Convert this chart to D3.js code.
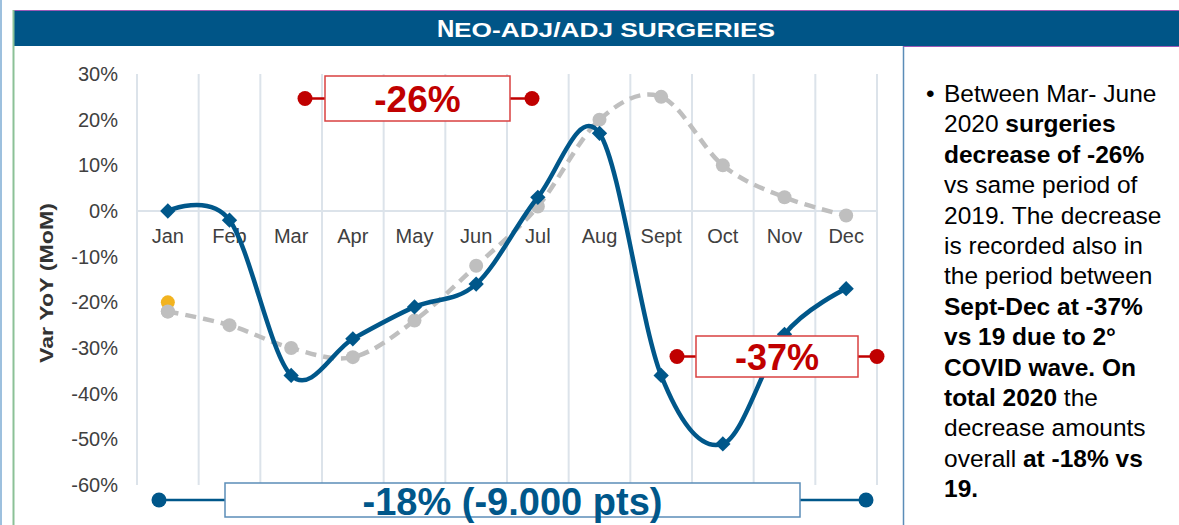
<!DOCTYPE html>
<html>
<head>
<meta charset="utf-8">
<script src="https://cdn.jsdelivr.net/npm/d3@7"></script>
<style>
  body { margin: 0; background: #fff; }
  svg { display: block; font-family: "Liberation Sans", Arial, sans-serif; }
</style>
</head>
<body>
<svg id="chart" width="1179" height="525"></svg>
<script>
// months on the x axis
var months = ["Jan", "Feb", "Mar", "Apr", "May", "Jun", "Jul", "Aug", "Sept", "Oct", "Nov", "Dec"];
// YoY variation 2020 (blue, solid)
var var2020 = [0, -2, -36, -28, -21, -16, 3, 17, -36, -51, -27, -17];
// YoY variation previous year (grey, dashed)
var var2019 = [-22, -25, -30, -32, -24, -12, 1, 20, 25, 10, 3, -1];
// single highlighted point (yellow)
var highlight = [{ month: "Jan", value: -20 }];
// y tick labels
var yTicks = [30, 20, 10, 0, -10, -20, -30, -40, -50, -60];

// commentary on the right, one entry per line, [text, bold]
var notes = [
    [["Between Mar- June", false]],
    [["2020 ", false], ["surgeries", true]],
    [["decrease of -26%", true]],
    [["vs same period of", false]],
    [["2019. The decrease", false]],
    [["is recorded also in", false]],
    [["the period between", false]],
    [["Sept-Dec at -37%", true]],
    [["vs 19 due to 2\u00b0", true]],
    [["COVID wave. On", true]],
    [["total 2020", true], [" the", false]],
    [["decrease amounts", false]],
    [["overall ", false], ["at -18% vs", true]],
    [["19.", true]]
];

var blue = "#00578a", red = "#c00000", grey = "#bfbfbf", yellow = "#f2b31f";
var svg = d3.select("#chart");

// panel frame
svg.append("rect").attr("x", 0).attr("y", 0).attr("width", 2).attr("height", 525).attr("fill", "#9dc0de");
svg.append("rect").attr("x", 13).attr("y", 10).attr("width", 1166).attr("height", 36).attr("fill", "#005587");
svg.append("line").attr("x1", 13).attr("x2", 1179).attr("y1", 10.5).attr("y2", 10.5)
    .attr("stroke", "#9b59b6").attr("stroke-width", 1);
svg.append("line").attr("x1", 13.5).attr("x2", 13.5).attr("y1", 10).attr("y2", 525)
    .attr("stroke", "#8cc197").attr("stroke-width", 2);
svg.append("line").attr("x1", 903.5).attr("x2", 903.5).attr("y1", 46).attr("y2", 525)
    .attr("stroke", "#5b8db8").attr("stroke-width", 1.5);
svg.append("line").attr("x1", 903).attr("x2", 1179).attr("y1", 46.5).attr("y2", 46.5)
    .attr("stroke", "#9b59b6").attr("stroke-width", 1);

// title (small caps look)
svg.append("text").attr("x", 437).attr("y", 37).attr("fill", "#fff")
    .attr("font-size", 24).attr("font-weight", "bold").text("N");
svg.append("text").attr("x", 454).attr("y", 37).attr("fill", "#fff")
    .attr("font-size", 20).attr("font-weight", "bold")
    .attr("textLength", 321).attr("lengthAdjust", "spacingAndGlyphs")
    .text("EO-ADJ/ADJ SURGERIES");

// scales
var x = d3.scaleBand().domain(months).range([137, 877]);
var y = d3.scaleLinear().domain([-60, 30]).range([485, 74]);

// vertical gridlines at band edges
var edges = months.map(function (m) { return x(m); }).concat([x.range()[1]]);
svg.append("g").selectAll("line").data(edges).enter().append("line")
    .attr("x1", function (d) { return d; }).attr("x2", function (d) { return d; })
    .attr("y1", y(30)).attr("y2", y(-60))
    .attr("stroke", "#dce3ea").attr("stroke-width", 2);

// zero line
svg.append("line").attr("x1", x.range()[0]).attr("x2", x.range()[1])
    .attr("y1", y(0)).attr("y2", y(0))
    .attr("stroke", "#dce3ea").attr("stroke-width", 2);

// y axis labels
svg.append("g")
    .attr("transform", "translate(" + x.range()[0] + ",0)")
    .call(d3.axisLeft(y).tickValues(yTicks).tickSize(0).tickPadding(19)
        .tickFormat(function (d) { return d + "%"; }))
    .call(function (g) { g.select(".domain").remove(); })
    .selectAll("text")
    .attr("font-size", 20).attr("fill", "#404040").attr("font-family", "Liberation Sans, Arial, sans-serif");

// month labels under the zero line
svg.append("g")
    .attr("transform", "translate(0," + y(0) + ")")
    .call(d3.axisBottom(x).tickSize(0).tickPadding(18))
    .call(function (g) { g.select(".domain").remove(); })
    .selectAll("text")
    .attr("font-size", 20).attr("fill", "#404040").attr("font-family", "Liberation Sans, Arial, sans-serif");

// y axis title
svg.append("text")
    .attr("transform", "translate(53,283) rotate(-90)")
    .attr("text-anchor", "middle")
    .attr("font-size", 19).attr("font-weight", "bold").attr("fill", "#333")
    .attr("textLength", 160).attr("lengthAdjust", "spacingAndGlyphs")
    .text("Var YoY (MoM)");

var cx = function (i) { return x(months[i]) + x.bandwidth() / 2; };
var line = d3.line()
    .x(function (d, i) { return cx(i); })
    .y(function (d) { return y(d); })
    .curve(d3.curveCardinal.tension(0));

// grey dashed series
svg.append("path").datum(var2019)
    .attr("d", line).attr("fill", "none")
    .attr("stroke", grey).attr("stroke-width", 4.5).attr("stroke-dasharray", "11,7");
svg.append("g").selectAll("circle").data(var2019).enter().append("circle")
    .attr("cx", function (d, i) { return cx(i); })
    .attr("cy", function (d) { return y(d); })
    .attr("r", 7).attr("fill", grey);

// yellow point
svg.append("g").selectAll("circle").data(highlight).enter().append("circle")
    .attr("cx", function (d) { return x(d.month) + x.bandwidth() / 2; })
    .attr("cy", function (d) { return y(d.value); })
    .attr("r", 7).attr("fill", yellow);
// grey Jan point sits over the yellow one
svg.append("circle").attr("cx", cx(0)).attr("cy", y(var2019[0])).attr("r", 7).attr("fill", grey);

// blue series
svg.append("path").datum(var2020)
    .attr("d", line).attr("fill", "none")
    .attr("stroke", blue).attr("stroke-width", 4.5);
svg.append("g").selectAll("path").data(var2020).enter().append("path")
    .attr("d", d3.symbol().type(d3.symbolDiamond2).size(150))
    .attr("transform", function (d, i) { return "translate(" + cx(i) + "," + y(d) + ")"; })
    .attr("fill", blue);

// bracket annotations: dots, connectors and boxed labels
function bracket(x0, x1, bx0, bx1, by0, by1, colour, border, label, size, baseline) {
    var g = svg.append("g");
    var cy = (by0 + by1) / 2;
    g.append("line").attr("x1", x0).attr("x2", x1).attr("y1", cy).attr("y2", cy)
        .attr("stroke", colour).attr("stroke-width", 2.5);
    g.append("circle").attr("cx", x0).attr("cy", cy).attr("r", 7.5).attr("fill", colour);
    g.append("circle").attr("cx", x1).attr("cy", cy).attr("r", 7.5).attr("fill", colour);
    g.append("rect").attr("x", bx0).attr("y", by0).attr("width", bx1 - bx0).attr("height", by1 - by0)
        .attr("fill", "#fff").attr("stroke", border).attr("stroke-width", 1.5);
    g.append("text").attr("x", (bx0 + bx1) / 2).attr("y", baseline)
        .attr("text-anchor", "middle").attr("font-size", size).attr("font-weight", "bold")
        .attr("fill", colour).text(label);
}
bracket(305, 532, 325, 510, 76, 121, red, "#d94040", "-26%", 37, 112);
bracket(677, 877, 696, 858, 336, 377, red, "#d94040", "-37%", 36, 370);
bracket(159, 866, 225, 800, 483, 517, blue, "#5b8db8", "-18% (-9.000 pts)", 38, 515);

// commentary
var notesG = svg.append("g").attr("font-size", 24.5).attr("fill", "#000");
notesG.append("text").attr("x", 926).attr("y", 102).text("\u2022");
notes.forEach(function (parts, i) {
    var t = notesG.append("text").attr("x", 944).attr("y", 102 + i * 30.4);
    parts.forEach(function (p) {
        t.append("tspan").attr("font-weight", p[1] ? "bold" : "normal").text(p[0]);
    });
});
</script>
</body>
</html>
